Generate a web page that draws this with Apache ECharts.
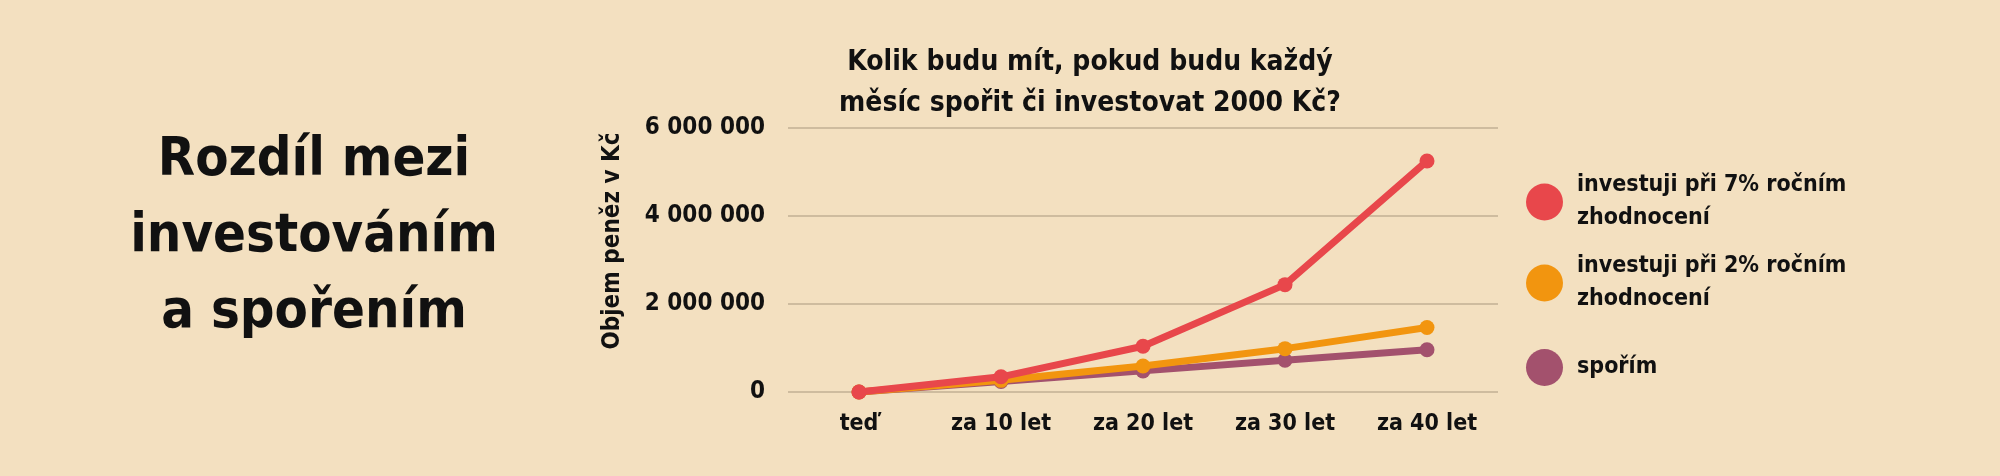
<!DOCTYPE html>
<html>
<head>
<meta charset="utf-8">
<script src="https://cdn.jsdelivr.net/npm/echarts@6/dist/echarts.min.js"></script>
<style>
  html, body { margin: 0; padding: 0; background: #f3e0c0; }
  #main { width: 2000px; height: 476px; }
</style>
</head>
<body>
<div id="main"></div>
<script>
// data
var categories = ["teď", "za 10 let", "za 20 let", "za 30 let", "za 40 let"]
var invest7 = [0, 345000, 1040000, 2440000, 5250000]
var invest2 = [0, 265000, 590000, 985000, 1465000]
var sporim = [0, 240000, 480000, 720000, 960000]
var seriesNames = ["investuji při 7% ročním\nzhodnocení", "investuji při 2% ročním\nzhodnocení", "spořím"]
var yTicks = [0, 2000000, 4000000, 6000000]

var labelFont = "'DejaVu Sans Condensed', 'DejaVu Sans', sans-serif"
var colors = ["#e8474b", "#f2950f", "#a3516d"]

var chartDom = document.getElementById("main")
var myChart = echarts.init(chartDom)

// legenda - kazda polozka zvlast, at sedi pozice
function legendItem(name, top) {
  return {
    data: [name],
    left: 1526,
    top: top,
    padding: 0,
    orient: "vertical",
    icon: "circle",
    itemWidth: 37,
    itemHeight: 37,
    selectedMode: false,
    textStyle: {
      fontFamily: labelFont,
      fontWeight: "bold",
      fontSize: 23,
      lineHeight: 33,
      color: "#111",
      padding: [0, 0, 0, 9]
    }
  }
}

function lineSeries(name, data, color, z) {
  return {
    name: name,
    type: "line",
    data: data,
    z: z,
    symbol: "circle",
    symbolSize: 15,
    lineStyle: { width: 7, color: color },
    itemStyle: { color: color },
    emphasis: { disabled: true }
  }
}

var option = {
  backgroundColor: "#f3e0c0",
  animation: false,
  title: [
    {
      text: "Rozdíl mezi\ninvestováním\na spořením",
      left: 314,
      top: 123,
      padding: 0,
      textAlign: "center",
      textStyle: {
        fontFamily: labelFont,
        fontWeight: "bold",
        fontSize: 54,
        lineHeight: 76,
        color: "#111"
      }
    },
    {
      text: "Kolik budu mít, pokud budu každý\nměsíc spořit či investovat 2000 Kč?",
      left: 1090,
      top: 42,
      padding: 0,
      textAlign: "center",
      textStyle: {
        fontFamily: labelFont,
        fontWeight: "bold",
        fontSize: 28,
        lineHeight: 41,
        color: "#111"
      }
    }
  ],
  legend: [
    legendItem(seriesNames[0], 169),
    legendItem(seriesNames[1], 250),
    legendItem(seriesNames[2], 349)
  ],
  grid: {
    left: 788,
    right: 502,
    top: 128,
    bottom: 84,
    containLabel: false
  },
  xAxis: {
    type: "category",
    data: categories,
    boundaryGap: true,
    axisLine: { show: false },
    axisTick: { show: false },
    axisLabel: {
      margin: 21,
      fontFamily: labelFont,
      fontWeight: "bold",
      fontSize: 23,
      color: "#111"
    }
  },
  yAxis: {
    type: "value",
    min: yTicks[0],
    max: yTicks[yTicks.length - 1],
    interval: yTicks[1] - yTicks[0],
    name: "Objem peněz v Kč",
    nameLocation: "middle",
    nameGap: 163,
    nameTextStyle: {
      fontFamily: labelFont,
      fontWeight: "bold",
      fontSize: 24,
      color: "#111",
      padding: [0, 0, 0, 38]
    },
    axisLine: { show: false },
    axisTick: { show: false },
    splitLine: { lineStyle: { color: "#c2b094", width: 1.5 } },
    axisLabel: {
      margin: 23,
      fontFamily: labelFont,
      fontWeight: "bold",
      fontSize: 24,
      color: "#111",
      formatter: function (v) {
        return String(v).replace(/\B(?=(\d{3})+(?!\d))/g, " ")
      }
    }
  },
  series: [
    lineSeries(seriesNames[2], sporim, colors[2], 2),
    lineSeries(seriesNames[1], invest2, colors[1], 3),
    lineSeries(seriesNames[0], invest7, colors[0], 4)
  ]
}

option && myChart.setOption(option)
</script>
</body>
</html>
